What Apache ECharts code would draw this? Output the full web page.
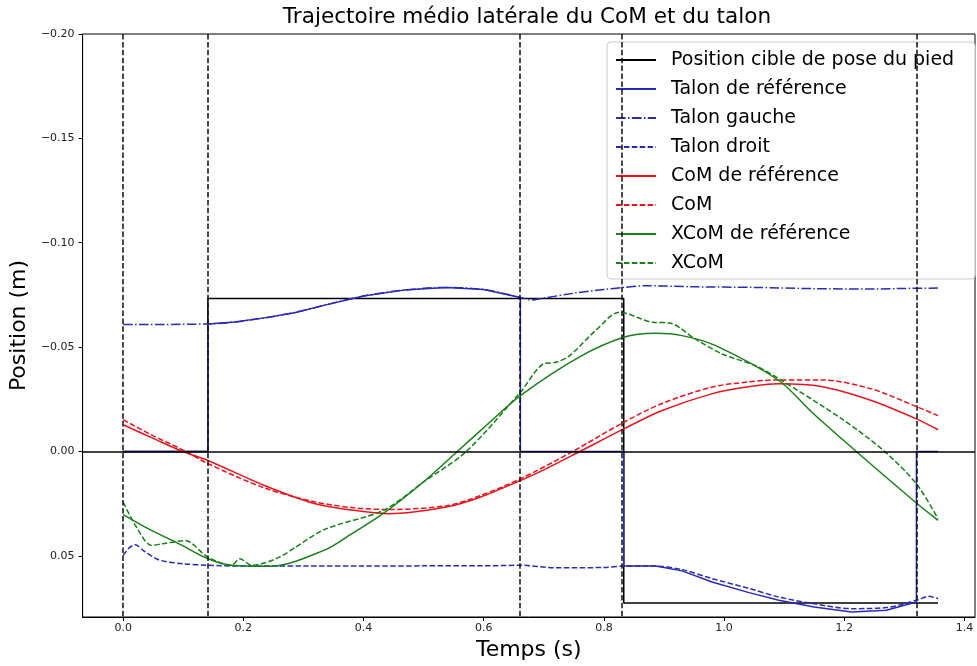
<!DOCTYPE html>
<html><head><meta charset="utf-8">
<script src="https://cdn.jsdelivr.net/npm/echarts@6/dist/echarts.min.js"></script>
<style>html,body{margin:0;padding:0;background:#fff}#c{width:977px;height:666px}</style>
</head><body><div id="c"></div>
<script>
// ---------- data ----------
const titleText = 'Trajectoire médio latérale du CoM et du talon';
const xName = 'Temps (s)';
const yName = 'Position (m)';
const legendNames = ['Position cible de pose du pied','Talon de référence','Talon gauche','Talon droit','CoM de référence','CoM','XCoM de référence','XCoM'];
const xTicks = [0.0,0.2,0.4,0.6,0.8,1.0,1.2,1.4];
const yTicks = [-0.20,-0.15,-0.10,-0.05,0.00,0.05];
const eventTimes = [0, 0.141, 0.661, 0.833, 1.32];

const tCible = [0, 0.141, 0.141, 0.833, 0.833, 1.356];
const vCible = [0, 0, -0.0733, -0.0733, 0.0726, 0.0726];

const tTalonRef = [0, 0.141, 0.141, 0.185, 0.235, 0.285, 0.334, 0.40, 0.467, 0.538, 0.60, 0.661, 0.661, 0.833, 0.833, 0.886, 0.93, 0.98, 1.04, 1.091, 1.15, 1.212, 1.27, 1.32, 1.32, 1.356];
const vTalonRef = [0, 0, -0.0611, -0.0620, -0.0640, -0.0665, -0.0700, -0.0745, -0.0773, -0.0786, -0.0776, -0.0738, 0, 0, 0.0549, 0.0549, 0.0572, 0.0625, 0.0675, 0.0713, 0.0745, 0.0769, 0.0761, 0.0721, 0, 0];

const tTalonG = [0, 0.141, 0.185, 0.235, 0.285, 0.334, 0.40, 0.467, 0.538, 0.60, 0.661, 0.68, 0.70, 0.75, 0.80, 0.833, 0.87, 0.95, 1.05, 1.15, 1.25, 1.30, 1.356];
const vTalonG = [-0.0608, -0.0611, -0.0620, -0.0640, -0.0665, -0.0700, -0.0745, -0.0773, -0.0786, -0.0776, -0.0738, -0.0726, -0.0735, -0.0758, -0.0776, -0.0786, -0.0794, -0.0789, -0.0786, -0.0780, -0.0778, -0.0781, -0.0783];

const tTalonD = [0, 0.01, 0.02, 0.035, 0.06, 0.1, 0.141, 0.2, 0.3, 0.4, 0.5, 0.6, 0.661, 0.72, 0.80, 0.833, 0.886, 0.93, 0.98, 1.04, 1.091, 1.15, 1.212, 1.27, 1.32, 1.34, 1.356];
const vTalonD = [0.0498, 0.0462, 0.0447, 0.0478, 0.0520, 0.0538, 0.0545, 0.0549, 0.0549, 0.0549, 0.0548, 0.0548, 0.0545, 0.0557, 0.0556, 0.0549, 0.0549, 0.0566, 0.0609, 0.0655, 0.0697, 0.0730, 0.0753, 0.0748, 0.0713, 0.0694, 0.0705];

const tComRef = [0, 0.05, 0.099, 0.141, 0.235, 0.318, 0.384, 0.442, 0.538, 0.594, 0.661, 0.70, 0.76, 0.833, 0.897, 0.979, 1.04, 1.091, 1.162, 1.245, 1.32, 1.356];
const vComRef = [-0.0128, -0.0063, 0, 0.0043, 0.0163, 0.0249, 0.0282, 0.0298, 0.0266, 0.0219, 0.0139, 0.0088, 0, -0.0108, -0.0196, -0.0276, -0.0310, -0.0324, -0.0311, -0.0244, -0.0156, -0.0104];

const tCom = [0, 0.05, 0.099, 0.141, 0.235, 0.318, 0.384, 0.442, 0.538, 0.594, 0.661, 0.748, 0.833, 0.897, 0.979, 1.04, 1.091, 1.162, 1.245, 1.32, 1.356];
const vCom = [-0.0152, -0.0075, -0.0008, 0.0058, 0.0175, 0.0241, 0.0270, 0.0278, 0.0260, 0.0212, 0.0131, 0, -0.0140, -0.0230, -0.0308, -0.0333, -0.0343, -0.0343, -0.0300, -0.0215, -0.0172];

const tXcomRef = [0, 0.035, 0.07, 0.098, 0.141, 0.18, 0.246, 0.334, 0.38, 0.433, 0.50, 0.556, 0.61, 0.661, 0.758, 0.833, 0.886, 0.93, 0.985, 1.091, 1.146, 1.22, 1.32, 1.356];
const vXcomRef = [0.0303, 0.0360, 0.0410, 0.0450, 0.0514, 0.0545, 0.0550, 0.0474, 0.0395, 0.0297, 0.0145, 0, -0.0140, -0.0268, -0.0451, -0.0547, -0.0566, -0.0555, -0.0508, -0.0340, -0.0188, 0, 0.0247, 0.0330];

const tXcom = [0, 0.022, 0.047, 0.066, 0.103, 0.141, 0.18, 0.194, 0.214, 0.26, 0.334, 0.433, 0.50, 0.571, 0.661, 0.70, 0.72, 0.743, 0.786, 0.826, 0.881, 0.909, 0.952, 0.997, 1.052, 1.091, 1.20, 1.267, 1.32, 1.356];
const vXcom = [0.0243, 0.0362, 0.0450, 0.0442, 0.0427, 0.0506, 0.0545, 0.0514, 0.0545, 0.0506, 0.0375, 0.0282, 0.0146, 0, -0.0284, -0.0421, -0.0427, -0.0459, -0.0579, -0.0667, -0.0619, -0.0616, -0.0539, -0.0467, -0.0411, -0.0349, -0.0148, 0, 0.0155, 0.0322];

// ---------- styles ----------
const FONT = 'DejaVu Sans';
const BLUE = '#2a2ab8', RED = '#e8141e', GREEN = '#1a7f1a', BLACK = '#000000';
const DASH = [5.5, 2.4], DASHDOT = [9.6, 2.4, 1.5, 2.4];
const LW = 1.5;

function pairs(t, v) { return t.map((x, i) => [x, v[i]]); }
function fmtY(v) { return v.toFixed(2).replace('-', '\u2212'); }

function lineSeries(name, t, v, color, type, smooth) {
  return {
    name, type: 'line', data: pairs(t, v), showSymbol: false, symbol: 'none',
    smooth: smooth ? 0.3 : false,
    lineStyle: { color, width: LW, type },
    itemStyle: { color }, silent: true, animation: false
  };
}

const chart = echarts.init(document.getElementById('c'), null, { renderer: 'canvas' });

const TITLE_FS = 21.6;
const ctx = document.createElement('canvas').getContext('2d');
ctx.font = TITLE_FS + 'px "' + FONT + '"';
const titleW = ctx.measureText(titleText).width;
const plotLeft = 79, plotRight = 975, plotTop = 34, plotBottom = 617;

const series = [
  lineSeries(legendNames[0], tCible, vCible, BLACK, 'solid', false),
  lineSeries(legendNames[1], tTalonRef, vTalonRef, BLUE, 'solid', false),
  lineSeries(legendNames[2], tTalonG, vTalonG, BLUE, DASHDOT, true),
  lineSeries(legendNames[3], tTalonD, vTalonD, BLUE, DASH, true),
  lineSeries(legendNames[4], tComRef, vComRef, RED, 'solid', true),
  lineSeries(legendNames[5], tCom, vCom, RED, DASH, true),
  lineSeries(legendNames[6], tXcomRef, vXcomRef, GREEN, 'solid', true),
  lineSeries(legendNames[7], tXcom, vXcom, GREEN, DASH, true),
];
series[0].markLine = {
  silent: true, animation: false, symbol: ['none', 'none'], label: { show: false },
  data: [
    { yAxis: 0, lineStyle: { color: BLACK, width: 1.5, type: 'solid' } },
    ...eventTimes.map(t => ({ xAxis: t, lineStyle: { color: '#111', width: 1.5, type: DASH } }))
  ]
};
series[0].z = 3;

chart.setOption({
  animation: false,
  backgroundColor: '#ffffff',
  title: {
    text: titleText, left: (plotLeft + plotRight) / 2 - titleW / 2 - 5, top: 1,
    textStyle: { fontFamily: FONT, fontSize: TITLE_FS, fontWeight: 'normal', color: '#000' }
  },
  grid: { left: plotLeft, top: plotTop, right: 977 - plotRight, bottom: 666 - plotBottom, show: true, borderColor: '#000', borderWidth: 1, containLabel: false },
  legend: {
    data: legendNames, orient: 'vertical', left: 607, top: 42,
    padding: [7, 21, 5, 8], itemGap: 7, itemWidth: 40, itemHeight: 14,
    itemStyle: { opacity: 0 },
    backgroundColor: 'rgba(255,255,255,0.8)', borderColor: '#cccccc', borderWidth: 1, borderRadius: 4,
    textStyle: { fontFamily: FONT, fontSize: 19, color: '#000', lineHeight: 22, padding: [0, 0, 0, 10] },
    selectedMode: false
  },
  xAxis: {
    type: 'value', min: -0.0675, max: 1.4175,
    name: xName, nameLocation: 'middle', nameGap: 18,
    nameTextStyle: { fontFamily: FONT, fontSize: 22, color: '#000', verticalAlign: 'top' },
    axisLine: { show: true, onZero: false, lineStyle: { color: '#000', width: 1 } },
    axisTick: { show: true, length: 4, lineStyle: { color: '#000' }, customValues: xTicks },
    axisLabel: { fontFamily: FONT, fontSize: 11, color: '#222', margin: 6, customValues: xTicks, formatter: v => v.toFixed(1) },
    splitLine: { show: false }
  },
  yAxis: {
    type: 'value', inverse: true, min: -0.2, max: 0.0793, interval: 0.05,
    name: yName, nameLocation: 'middle', nameGap: 33,
    nameTextStyle: { fontFamily: FONT, fontSize: 22, color: '#000' },
    axisLine: { show: true, onZero: false, lineStyle: { color: '#000', width: 1 } },
    axisTick: { show: true, length: 4, lineStyle: { color: '#000' }, customValues: yTicks },
    axisLabel: { fontFamily: FONT, fontSize: 11, color: '#222', margin: 8, customValues: yTicks, formatter: v => fmtY(v) },
    splitLine: { show: false }
  },
  series
});
</script></body></html>
